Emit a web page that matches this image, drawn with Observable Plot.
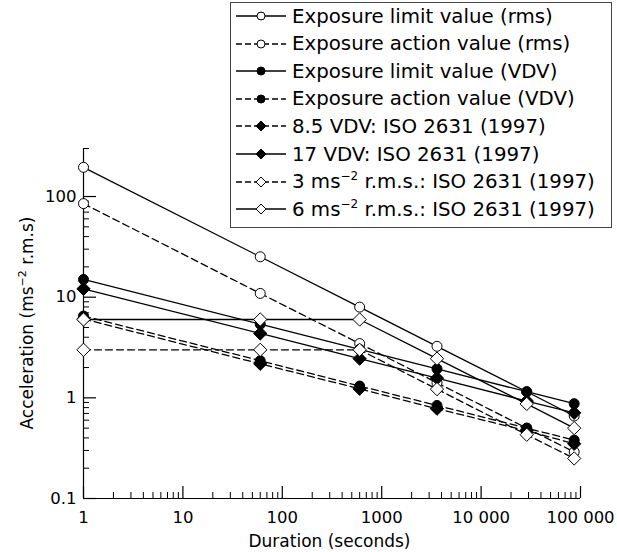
<!DOCTYPE html>
<html><head><meta charset="utf-8">
<script src="https://cdn.jsdelivr.net/npm/d3@7"></script>
<script src="https://cdn.jsdelivr.net/npm/@observablehq/plot@0.6"></script>
<style>
body{margin:0;background:#fff;}
#wrap{position:relative;width:617px;height:552px;font-family:"DejaVu Sans",sans-serif;color:#000;}
#legend{position:absolute;left:230px;top:2px;width:382px;height:226px;border:1px solid #444;background:#fff;box-sizing:border-box;}
.row{position:absolute;left:0;height:26px;display:flex;align-items:center;font-size:19.8px;white-space:nowrap;letter-spacing:0;}
.row svg{margin-left:4px;margin-right:5px;}
sup{font-size:12px;vertical-align:8px;line-height:0;}
</style></head><body><div id="wrap"><div id="legend"></div></div>
<script>
// Durations (s)
const durations = [1, 60, 600, 3600, 28800, 86400];
// Series values (m/s^2 r.m.s.)
const elvRms = [195, 25.2, 7.97, 3.25, 1.15, 0.66];
const eavRms = [85, 10.9, 3.46, 1.41, 0.5, 0.29];
const elvVdv = [15, 5.39, 3.03, 1.94, 1.15, 0.875];
const eavVdv = [6.5, 2.34, 1.31, 0.84, 0.5, 0.38];
const iso85Vdv = [6.07, 2.18, 1.23, 0.78, 0.47, 0.35];
const iso17Vdv = [12.1, 4.36, 2.45, 1.57, 0.93, 0.71];
const iso3Rms = [3, 3, 3, 1.22, 0.43, 0.25];
const iso6Rms = [6, 6, 6, 2.45, 0.87, 0.5];
// Legend labels
const labels = [
  "Exposure limit value (rms)",
  "Exposure action value (rms)",
  "Exposure limit value (VDV)",
  "Exposure action value (VDV)",
  "8.5 VDV: ISO 2631 (1997)",
  "17 VDV: ISO 2631 (1997)",
  "3 ms<sup>−2</sup> r.m.s.: ISO 2631 (1997)",
  "6 ms<sup>−2</sup> r.m.s.: ISO 2631 (1997)"
];
// Tick labels
const xTicks = [1, 10, 100, 1000, 10000, 100000];
const xTickLabels = ["1", "10", "100", "1000", "10 000", "100 000"];
const yTicks = [0.1, 1, 10, 100];
const yTickLabels = ["0.1", "1", "10", "100"];

const series = [
  {values: elvRms, symbol: "circle", fill: "white", dash: false},
  {values: eavRms, symbol: "circle", fill: "white", dash: true},
  {values: elvVdv, symbol: "circle", fill: "black", dash: false},
  {values: eavVdv, symbol: "circle", fill: "black", dash: true},
  {values: iso85Vdv, symbol: "diamond2", fill: "black", dash: true},
  {values: iso17Vdv, symbol: "diamond2", fill: "black", dash: false},
  {values: iso3Rms, symbol: "diamond2", fill: "white", dash: true},
  {values: iso6Rms, symbol: "diamond2", fill: "white", dash: false}
];

const W = 617, H = 552, mL = 83, mR = 37, mT = 148, mB = 54;
const plotH = H - mT - mB, plotW = W - mL - mR;
const DASH = "7,4";
const FONT = "'DejaVu Sans', sans-serif";

const xMinor = [], yMinor = [];
for (const dec of [1, 10, 100, 1000, 10000]) for (let k = 2; k <= 9; k++) xMinor.push(k * dec);
for (const dec of [0.1, 1, 10]) for (let k = 2; k <= 9; k++) yMinor.push(+(k * dec).toFixed(3));
yMinor.push(200, 300);

const marks = [];
marks.push(Plot.ruleX([1], {x: d => d, stroke: "#000", strokeWidth: 1.2}));
marks.push(Plot.ruleY([0.1], {y: d => d, stroke: "#000", strokeWidth: 1.2}));
marks.push(Plot.ruleX(xTicks, {x: d => d, insetTop: plotH - 12, stroke: "#000", strokeWidth: 1.2}));
marks.push(Plot.ruleX(xMinor, {x: d => d, insetTop: plotH - 6, stroke: "#000", strokeWidth: 1}));
marks.push(Plot.ruleY(yTicks, {y: d => d, insetRight: plotW - 13, stroke: "#000", strokeWidth: 1.2}));
marks.push(Plot.ruleY(yMinor, {y: d => d, insetRight: plotW - 6, stroke: "#000", strokeWidth: 1}));
marks.push(Plot.text(xTicks, {x: d => d, y: 0.1, text: (d, i) => xTickLabels[i], dy: 19, fontSize: 16.5}));
marks.push(Plot.text(yTicks, {x: 1, y: d => d, text: (d, i) => yTickLabels[i], dx: -7, textAnchor: "end", fontSize: 16.5}));
for (const s of series) {
  const rows = durations.map((d, i) => ({x: d, y: s.values[i]}));
  marks.push(Plot.line(rows, {x: "x", y: "y", stroke: "#000", strokeWidth: 1.3, strokeDasharray: s.dash ? DASH : null}));
}
for (const s of series) {
  const rows = durations.map((d, i) => ({x: d, y: s.values[i]}));
  marks.push(Plot.dot(rows, {x: "x", y: "y", symbol: s.symbol, fill: s.fill, stroke: "#000", strokeWidth: 1, r: s.symbol === "circle" ? 5 : 6}));
}

const chart = Plot.plot({
  width: W, height: H,
  marginLeft: mL, marginRight: mR, marginTop: mT, marginBottom: mB,
  style: {fontFamily: FONT, fontSize: "16.5px", background: "white", color: "#000"},
  x: {type: "log", domain: [1, 100000], axis: null},
  y: {type: "log", domain: [0.1, 300], axis: null},
  marks
});
const svg = d3.select(chart);
svg.append("text")
  .attr("x", mL + plotW / 2 - 2).attr("y", 547)
  .attr("text-anchor", "middle").attr("font-size", 17).attr("fill", "#000")
  .text("Duration (seconds)");
const yl = svg.append("text")
  .attr("transform", `translate(33,${mT + plotH / 2}) rotate(-90)`)
  .attr("text-anchor", "middle").attr("font-size", 17).attr("fill", "#000");
yl.append("tspan").text("Acceleration (ms");
yl.append("tspan").attr("font-size", 11).attr("dy", -7).text("−2");
yl.append("tspan").attr("dy", 7).text(" r.m.s)");

const wrap = document.getElementById("wrap");
wrap.insertBefore(chart, wrap.firstChild);
chart.style.position = "absolute"; chart.style.left = "0"; chart.style.top = "0";

const legend = d3.select("#legend");
series.forEach((s, i) => {
  const row = legend.append("div").attr("class", "row").style("top", (0 + 27.6 * i) + "px");
  const g = row.append("svg").attr("width", 52).attr("height", 20);
  g.append("line").attr("x1", 1).attr("x2", 51).attr("y1", 10).attr("y2", 10)
    .attr("stroke", "#000").attr("stroke-width", 1.3).attr("stroke-dasharray", s.dash ? "6,3" : null);
  if (s.symbol === "circle") {
    g.append("circle").attr("cx", 26).attr("cy", 10).attr("r", 4).attr("fill", s.fill).attr("stroke", "#000");
  } else {
    g.append("path").attr("d", "M26,5L31,10L26,15L21,10Z").attr("fill", s.fill).attr("stroke", "#000");
  }
  row.append("span").html(labels[i]);
});
</script>
</body></html>
